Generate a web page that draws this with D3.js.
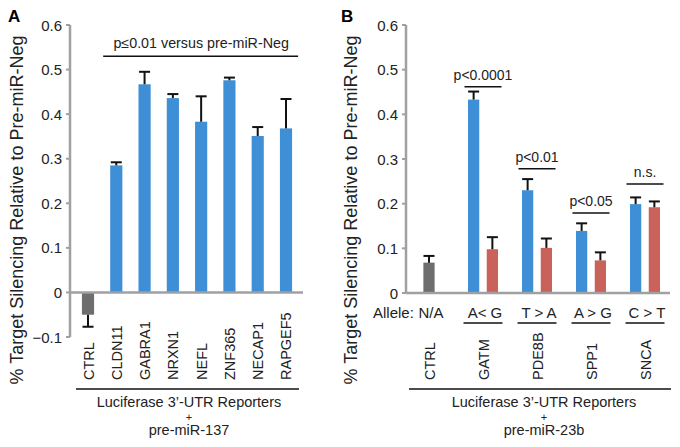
<!DOCTYPE html>
<html>
<head>
<meta charset="utf-8">
<script src="https://cdn.jsdelivr.net/npm/d3@7"></script>
<style>
  body { margin: 0; background: #fff; }
  text { font-family: "Liberation Sans", Arial, sans-serif; }
</style>
</head>
<body>
<div id="chart"></div>
<script>
// Panel A data
const genesA = ['CTRL', 'CLDN11', 'GABRA1', 'NRXN1', 'NEFL', 'ZNF365', 'NECAP1', 'RAPGEF5'];
const valuesA = [-0.05, 0.285, 0.467, 0.436, 0.383, 0.476, 0.351, 0.368];
const errorsA = [0.027, 0.007, 0.028, 0.009, 0.057, 0.006, 0.020, 0.066];
const sigLevelA = 0.53;

// Panel B data
const genesB = ['CTRL', 'GATM', 'PDE8B', 'SPP1', 'SNCA'];
const allelesB = ['N/A', 'A< G', 'T > A', 'A > G', 'C > T'];
const blueB = [0.068, 0.433, 0.230, 0.139, 0.199];
const blueErrB = [0.015, 0.018, 0.025, 0.017, 0.015];
const redB = [null, 0.098, 0.101, 0.073, 0.192];
const redErrB = [null, 0.027, 0.021, 0.018, 0.013];
const pLabelsB = ['', 'p<0.0001', 'p<0.01', 'p<0.05', 'n.s.'];
const pLevelB = [null, 0.462, 0.278, 0.179, 0.244];

const yTicksA = [-0.1, 0, 0.1, 0.2, 0.3, 0.4, 0.5, 0.6];
const yTicksB = [0, 0.1, 0.2, 0.3, 0.4, 0.5, 0.6];

const width = 680, height = 447;
const blue = '#3f8fd6', red = '#c9625b', grey = '#6e6e6e', axisGrey = '#a0a0a3';
const yTitle = '% Target Silencing Relative to Pre-miR-Neg';

const svg = d3.select('#chart').append('svg')
    .attr('width', width)
    .attr('height', height);

const fmt = d => d === 0 ? '0' : d3.format('.1f')(d);

const errorBar = (g, x, yTop, yErr) => {
    g.append('line')
        .attr('x1', x).attr('x2', x)
        .attr('y1', yTop).attr('y2', yErr)
        .attr('stroke', '#111').attr('stroke-width', 2);
    g.append('line')
        .attr('x1', x - 5.5).attr('x2', x + 5.5)
        .attr('y1', yErr).attr('y2', yErr)
        .attr('stroke', '#111').attr('stroke-width', 2);
};

const drawYAxis = (g, y, ticks, x0, titleX) => {
    const [r0, r1] = [y(ticks[0]), y(ticks[ticks.length - 1])];
    g.append('line')
        .attr('x1', x0).attr('x2', x0)
        .attr('y1', r0).attr('y2', r1)
        .attr('stroke', axisGrey).attr('stroke-width', 2.5);
    ticks.forEach(t => {
        g.append('line')
            .attr('x1', x0 - 4).attr('x2', x0)
            .attr('y1', y(t)).attr('y2', y(t))
            .attr('stroke', axisGrey).attr('stroke-width', 2);
        g.append('text')
            .attr('x', x0 - 8).attr('y', y(t))
            .attr('text-anchor', 'end')
            .attr('dominant-baseline', 'central')
            .attr('font-size', 15)
            .attr('fill', '#222')
            .text(fmt(t));
    });
    g.append('text')
        .attr('transform', `translate(${titleX}, 210) rotate(-90)`)
        .attr('text-anchor', 'middle')
        .attr('font-size', 18)
        .attr('fill', '#222')
        .text(yTitle);
};

const drawBottomTitle = (g, cx, x1, x2, second) => {
    g.append('line')
        .attr('x1', x1).attr('x2', x2)
        .attr('y1', 389).attr('y2', 389)
        .attr('stroke', '#111').attr('stroke-width', 1.5);
    g.append('text')
        .attr('x', cx).attr('y', 407)
        .attr('text-anchor', 'middle')
        .attr('font-size', 14.5).attr('fill', '#222')
        .text('Luciferase 3\u2019-UTR Reporters');
    g.append('text')
        .attr('x', cx).attr('y', 420.5)
        .attr('text-anchor', 'middle')
        .attr('font-size', 11).attr('fill', '#222')
        .text('+');
    g.append('text')
        .attr('x', cx).attr('y', 435)
        .attr('text-anchor', 'middle')
        .attr('font-size', 14.5).attr('fill', '#222')
        .text(second);
};

// ---------- Panel A ----------
const gA = svg.append('g');
const yA = d3.scaleLinear().domain([-0.1, 0.6]).range([337, 25]);
const xA = d3.scaleBand().domain(genesA).range([74, 300]).paddingInner(0.57).paddingOuter(0.28);

gA.append('text').attr('x', 8).attr('y', 22)
    .attr('font-size', 17).attr('font-weight', 'bold').text('A');

drawYAxis(gA, yA, yTicksA, 70, 23);

gA.selectAll('rect.bar')
    .data(genesA)
    .join('rect')
    .attr('class', 'bar')
    .attr('x', d => xA(d))
    .attr('width', xA.bandwidth())
    .attr('y', (d, i) => yA(Math.max(0, valuesA[i])))
    .attr('height', (d, i) => Math.abs(yA(valuesA[i]) - yA(0)))
    .attr('fill', (d, i) => i === 0 ? grey : blue);

genesA.forEach((d, i) => {
    const v = valuesA[i];
    const e = v < 0 ? v - errorsA[i] : v + errorsA[i];
    errorBar(gA, xA(d) + xA.bandwidth() / 2, yA(v), yA(e));
});

// x axis line (drawn over bars' base)
gA.append('line')
    .attr('x1', 70).attr('x2', 303)
    .attr('y1', yA(0)).attr('y2', yA(0))
    .attr('stroke', axisGrey).attr('stroke-width', 2.5);

gA.selectAll('text.gene')
    .data(genesA)
    .join('text')
    .attr('class', 'gene')
    .attr('transform', d => `translate(${xA(d) + xA.bandwidth() / 2 + 5.5}, 380) rotate(-90)`)
    .attr('font-size', 14.5)
    .attr('fill', '#222')
    .text(d => d);

// significance line
gA.append('line')
    .attr('x1', xA(genesA[1]) - 7).attr('x2', xA(genesA[7]) + xA.bandwidth() + 6)
    .attr('y1', yA(sigLevelA)).attr('y2', yA(sigLevelA))
    .attr('stroke', '#111').attr('stroke-width', 1.5);
gA.append('text')
    .attr('x', (xA(genesA[1]) + xA(genesA[7]) + xA.bandwidth()) / 2)
    .attr('y', yA(sigLevelA) - 8)
    .attr('text-anchor', 'middle')
    .attr('font-size', 14.3)
    .attr('fill', '#222')
    .text('p\u22640.01 versus pre-miR-Neg');

drawBottomTitle(gA, 189, 76, 299, 'pre-miR-137');

// ---------- Panel B ----------
const gB = svg.append('g');
const yB = d3.scaleLinear().domain([0, 0.6]).range([293, 25]);
const xB = d3.scaleBand().domain(genesB).range([402, 672]);
const xSub = d3.scaleBand().domain(['blue', 'red']).range([-15, 15]).paddingInner(0.4);
const bw = xSub.bandwidth();

gB.append('text').attr('x', 341).attr('y', 22)
    .attr('font-size', 17).attr('font-weight', 'bold').text('B');

drawYAxis(gB, yB, yTicksB, 406, 357);

genesB.forEach((d, i) => {
    const cx = xB(d) + xB.bandwidth() / 2;
    if (redB[i] === null) {
        // single control bar
        gB.append('rect')
            .attr('x', cx - bw / 2).attr('width', bw)
            .attr('y', yB(blueB[i])).attr('height', yB(0) - yB(blueB[i]))
            .attr('fill', grey);
        errorBar(gB, cx, yB(blueB[i]), yB(blueB[i] + blueErrB[i]));
        return;
    }
    const bx = cx + xSub('blue');
    const rx = cx + xSub('red');
    gB.append('rect')
        .attr('x', bx).attr('width', bw)
        .attr('y', yB(blueB[i])).attr('height', yB(0) - yB(blueB[i]))
        .attr('fill', blue);
    gB.append('rect')
        .attr('x', rx).attr('width', bw)
        .attr('y', yB(redB[i])).attr('height', yB(0) - yB(redB[i]))
        .attr('fill', red);
    errorBar(gB, bx + bw / 2, yB(blueB[i]), yB(blueB[i] + blueErrB[i]));
    errorBar(gB, rx + bw / 2, yB(redB[i]), yB(redB[i] + redErrB[i]));

    // significance bracket above the pair
    const ly = yB(pLevelB[i]);
    gB.append('line')
        .attr('x1', cx - 18.5).attr('x2', cx + 18.5)
        .attr('y1', ly).attr('y2', ly)
        .attr('stroke', '#111').attr('stroke-width', 1.5);
    gB.append('text')
        .attr('x', cx).attr('y', ly - 7)
        .attr('text-anchor', 'middle')
        .attr('font-size', 14)
        .attr('fill', '#222')
        .text(pLabelsB[i]);
});

gB.append('line')
    .attr('x1', 406).attr('x2', 670)
    .attr('y1', yB(0)).attr('y2', yB(0))
    .attr('stroke', axisGrey).attr('stroke-width', 2.5);

// allele row
gB.append('text')
    .attr('x', 373).attr('y', 318)
    .attr('font-size', 15).attr('fill', '#222')
    .text('Allele:');
genesB.forEach((d, i) => {
    const cx = xB(d) + xB.bandwidth() / 2;
    gB.append('text')
        .attr('x', cx + 2).attr('y', 318)
        .attr('text-anchor', 'middle')
        .attr('font-size', 15).attr('fill', '#222')
        .text(allelesB[i]);
    if (i > 0) {
        gB.append('line')
            .attr('x1', cx - 19.5).attr('x2', cx + 19.5)
            .attr('y1', 323).attr('y2', 323)
            .attr('stroke', '#111').attr('stroke-width', 1.5);
    }
});

gB.selectAll('text.gene')
    .data(genesB)
    .join('text')
    .attr('class', 'gene')
    .attr('transform', d => `translate(${xB(d) + xB.bandwidth() / 2 + 5.5}, 380) rotate(-90)`)
    .attr('font-size', 14.5)
    .attr('fill', '#222')
    .text(d => d);

drawBottomTitle(gB, 544, 409, 671, 'pre-miR-23b');
</script>
</body>
</html>
